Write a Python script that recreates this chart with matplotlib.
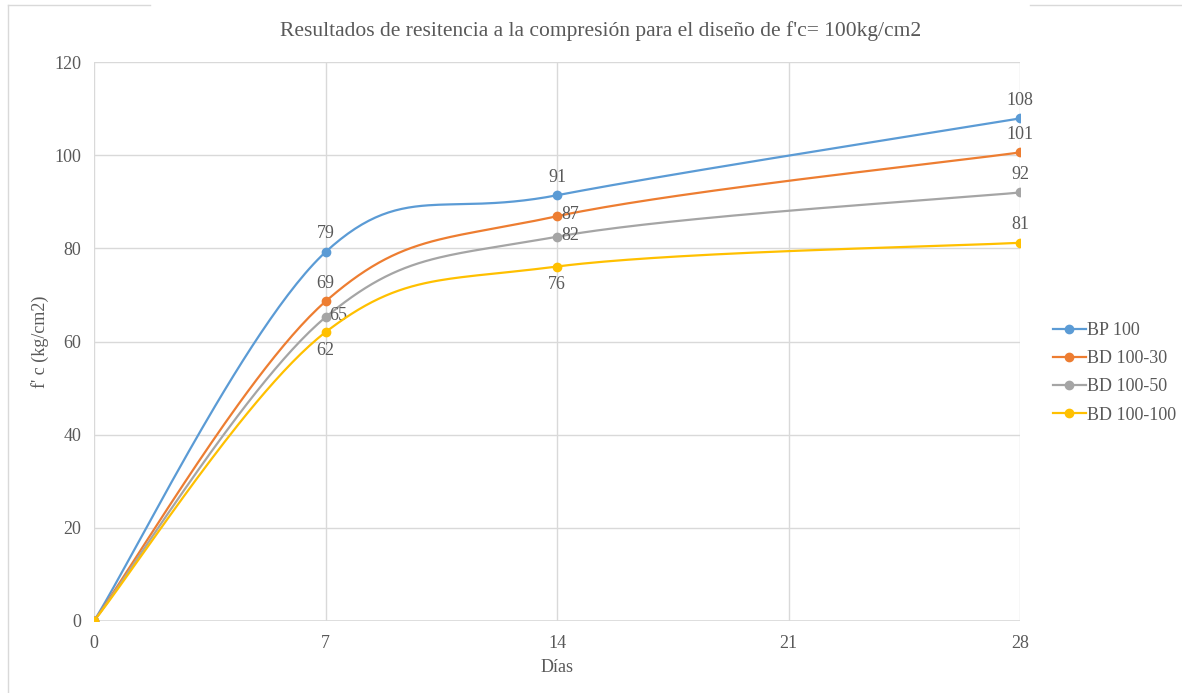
import numpy as np
import matplotlib.pyplot as plt
from matplotlib.lines import Line2D

dias = [0, 7, 14, 28]
series = ["BP 100", "BD 100-30", "BD 100-50", "BD 100-100"]
bp_100 = [0, 79.2, 91.4, 107.9]
bd_100_30 = [0, 68.6, 86.9, 100.6]
bd_100_50 = [0, 65.2, 82.5, 92.0]
bd_100_100 = [0, 62.0, 76.1, 81.2]
colores = ["#5b9bd5", "#ed7d31", "#a5a5a5", "#ffc000"]

# where each data label sits relative to its point (skip the zero point)
pos_etiquetas = [
    ["above", "above", "above"],
    ["above", "right", "above"],
    ["right", "right", "above"],
    ["below", "below", "above"],
]


def suavizar(x, y, n=60):
    # Catmull-Rom style smoothing, close to what spreadsheet charts draw
    x = np.asarray(x, float)
    y = np.asarray(y, float)
    px = np.concatenate([[x[0]], x, [x[-1]]])
    py = np.concatenate([[y[0]], y, [y[-1]]])
    xs, ys = [], []
    t = np.linspace(0, 1, n)
    for i in range(1, len(px) - 2):
        p0 = np.array([px[i], py[i]])
        p3 = np.array([px[i + 1], py[i + 1]])
        p1 = p0 + (np.array([px[i + 1], py[i + 1]]) - np.array([px[i - 1], py[i - 1]])) / 6
        p2 = p3 - (np.array([px[i + 2], py[i + 2]]) - np.array([px[i], py[i]])) / 6
        b = ((1 - t) ** 3)[:, None] * p0 + (3 * (1 - t) ** 2 * t)[:, None] * p1 \
            + (3 * (1 - t) * t ** 2)[:, None] * p2 + (t ** 3)[:, None] * p3
        xs.append(b[:, 0])
        ys.append(b[:, 1])
    return np.concatenate(xs), np.concatenate(ys)


plt.rcParams["font.family"] = ["Liberation Serif", "DejaVu Serif"]
gris = "#595959"
fs = 13

fig = plt.figure(figsize=(11.82, 6.93), dpi=100)
ax = fig.add_axes([0.0795, 0.1039, 0.7836, 0.8066])

todos = [bp_100, bd_100_30, bd_100_50, bd_100_100]
for nombre, vals, c, pos in zip(series, todos, colores, pos_etiquetas):
    sx, sy = suavizar(dias, vals)
    ax.plot(sx, sy, color=c, lw=1.6, zorder=3)
    ax.plot(dias, vals, "o", color=c, ms=6, zorder=4)
    for d, v, p in zip(dias[1:], vals[1:], pos):
        txt = str(int(round(v)))
        if p == "above":
            ax.annotate(txt, (d, v), xytext=(0, 7), textcoords="offset points",
                        ha="center", va="bottom", fontsize=fs, color=gris)
        elif p == "below":
            ax.annotate(txt, (d, v), xytext=(0, -7), textcoords="offset points",
                        ha="center", va="top", fontsize=fs, color=gris)
        else:
            ax.annotate(txt, (d, v), xytext=(3, 1), textcoords="offset points",
                        ha="left", va="center", fontsize=fs, color=gris)

ax.set_xlim(0, 28)
ax.set_ylim(0, 120)
ax.set_xticks([0, 7, 14, 21, 28])
ax.set_yticks(range(0, 121, 20))
ax.grid(True, color="#d9d9d9", lw=1)
ax.set_axisbelow(True)
for s in ax.spines.values():
    s.set_visible(False)
ax.axhline(0, color="#d9d9d9", lw=1.2, zorder=1)
ax.tick_params(axis="x", length=0, labelsize=fs, colors=gris, pad=10)
ax.tick_params(axis="y", length=0, labelsize=fs, colors=gris, pad=9)
ax.set_xlabel("Días", fontsize=fs, color=gris, labelpad=5)
ax.set_ylabel("f' c (kg/cm2)", fontsize=fs, color=gris, labelpad=4)
fig.text(0.508, 0.955, "Resultados de resitencia a la compresión para el diseño de f'c= 100kg/cm2",
         ha="center", va="center", fontsize=15.5, color=gris)

manijas = [Line2D([0], [0], color=c, lw=1.6, marker="o", ms=6) for c in colores]
fig.legend(manijas, series, loc="center left", bbox_to_anchor=(0.891, 0.462),
           frameon=False, fontsize=fs, labelcolor=gris, handlelength=1.8,
           handletextpad=0.1, labelspacing=0.62, borderpad=0, borderaxespad=0)

# thin frame around the chart area
fig.add_artist(Line2D([8 / 1182, 8 / 1182], [0, 1 - 5 / 693], color="#d9d9d9", lw=1,
                      transform=fig.transFigure))
fig.add_artist(Line2D([8 / 1182, 150 / 1182], [1 - 5 / 693, 1 - 5 / 693], color="#d9d9d9", lw=1,
                      transform=fig.transFigure))
fig.add_artist(Line2D([1030 / 1182, 1], [1 - 5 / 693, 1 - 5 / 693], color="#d9d9d9", lw=1,
                      transform=fig.transFigure))

fig.savefig("out.png", dpi=100)
